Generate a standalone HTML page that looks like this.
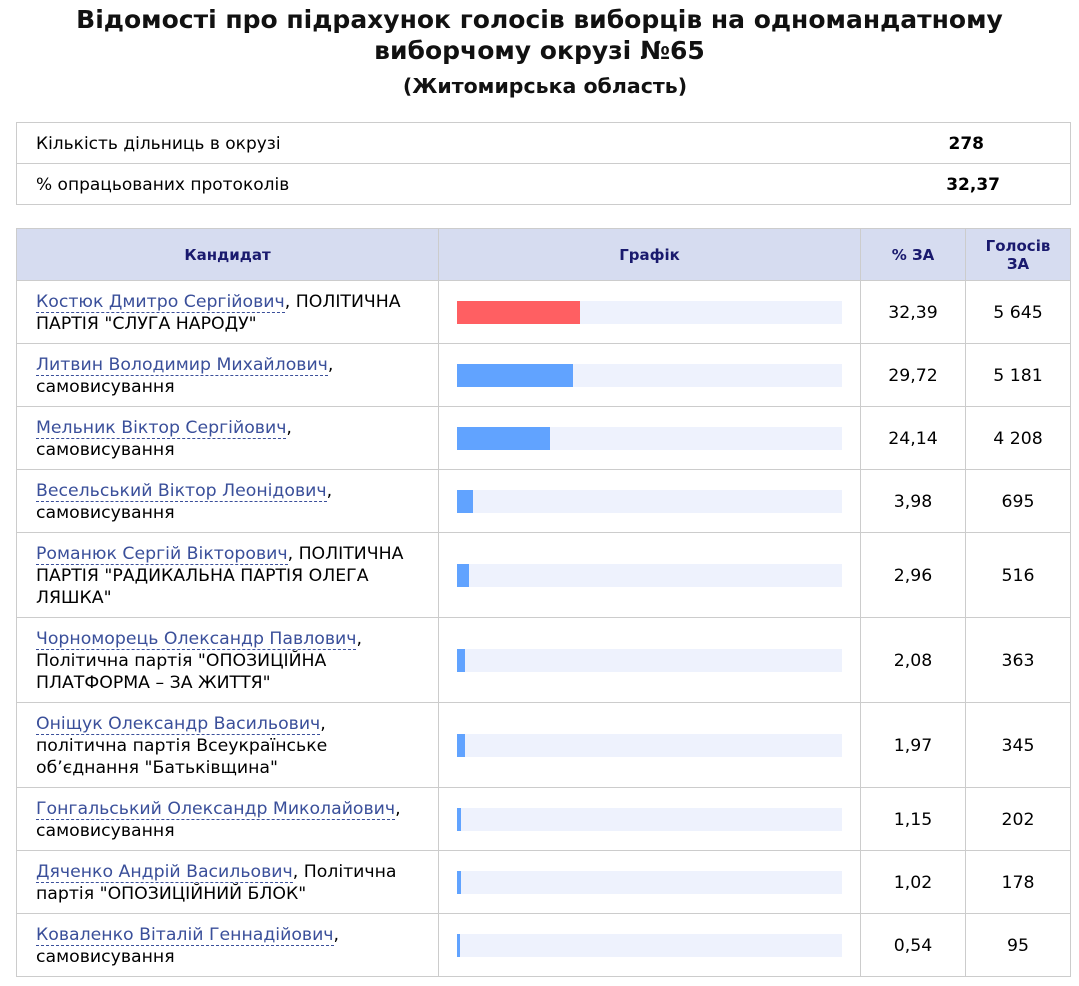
<!DOCTYPE html>
<html><head><meta charset="utf-8">
<style>
body{margin:0;width:1079px;height:986px;background:#fff;font-family:"DejaVu Sans","Liberation Sans",sans-serif;color:#000;position:relative;overflow:hidden}
h1{position:absolute;top:4px;left:0;width:1079px;margin:0;text-align:center;font-size:25px;line-height:31px;font-weight:bold;color:#111}
h2{position:absolute;top:74px;left:0;width:1090px;margin:0;text-align:center;font-size:20.5px;font-weight:bold;color:#111}
table{position:absolute;left:16px;width:1055px;border-collapse:collapse;table-layout:fixed}
td,th{border:1px solid #ccc;padding:0}
#t1{top:122px}
#t1 td{height:38px;font-size:17px;padding-left:19px;padding-top:2px;border-left:none;border-right:none}
#t1 td:first-child{border-left:1px solid #ccc}
#t1 td:last-child{border-right:1px solid #ccc}
#t1 td.v{font-weight:bold;padding-left:0;padding-right:70px;text-align:right}
#t2{top:228px}
#t2 th{background:#d6dcf0;color:#1a1a6e;font-size:15px;height:51px;font-weight:bold}
#t2 td{font-size:17.3px;line-height:22px;background:rgba(255,255,255,0.8);padding-top:2px}
#t2 td.c{padding-left:19px;padding-right:20px}
#t2 td.n{text-align:center}
a{color:#3a4f9a;text-decoration:none;border-bottom:1px dashed #3a4f9a}
.tr{margin-left:18px;width:385px;height:23px;background:#eef2fd;position:relative;top:-1px}
.b{position:absolute;left:0;top:0;height:23px;background:#61a3ff}
</style></head><body>
<h1>Відомості про підрахунок голосів виборців на одномандатному<br>виборчому окрузі №65</h1>
<h2>(Житомирська область)</h2>
<table id="t1">
<colgroup><col style="width:844px"><col></colgroup>
<tr><td>Кількість дільниць в окрузі</td><td class="v" style="padding-right:86px">278</td></tr>
<tr><td>% опрацьованих протоколів</td><td class="v">32,37</td></tr>
</table>
<table id="t2">
<colgroup><col style="width:422px"><col style="width:422px"><col style="width:105px"><col></colgroup>
<tr><th>Кандидат</th><th>Графік</th><th>% ЗА</th><th>Голосів<br>ЗА</th></tr>
<tr style="height:63px"><td class="c"><a>Костюк Дмитро Сергійович</a>, ПОЛІТИЧНА ПАРТІЯ "СЛУГА НАРОДУ"</td><td><div class="tr"><div class="b" style="width:123px;background:#ff5f62"></div></div></td><td class="n">32,39</td><td class="n">5 645</td></tr>
<tr style="height:63px"><td class="c"><a>Литвин Володимир Михайлович</a>,<br>самовисування</td><td><div class="tr"><div class="b" style="width:116px"></div></div></td><td class="n">29,72</td><td class="n">5 181</td></tr>
<tr style="height:63px"><td class="c"><a>Мельник Віктор Сергійович</a>,<br>самовисування</td><td><div class="tr"><div class="b" style="width:93px"></div></div></td><td class="n">24,14</td><td class="n">4 208</td></tr>
<tr style="height:63px"><td class="c"><a>Весельський Віктор Леонідович</a>,<br>самовисування</td><td><div class="tr"><div class="b" style="width:16px"></div></div></td><td class="n">3,98</td><td class="n">695</td></tr>
<tr style="height:85px"><td class="c"><a>Романюк Сергій Вікторович</a>, ПОЛІТИЧНА ПАРТІЯ "РАДИКАЛЬНА ПАРТІЯ ОЛЕГА ЛЯШКА"</td><td><div class="tr"><div class="b" style="width:12px"></div></div></td><td class="n">2,96</td><td class="n">516</td></tr>
<tr style="height:85px"><td class="c"><a>Чорноморець Олександр Павлович</a>, Політична партія "ОПОЗИЦІЙНА ПЛАТФОРМА – ЗА ЖИТТЯ"</td><td><div class="tr"><div class="b" style="width:8px"></div></div></td><td class="n">2,08</td><td class="n">363</td></tr>
<tr style="height:85px"><td class="c"><a>Оніщук Олександр Васильович</a>,<br>політична партія Всеукраїнське об’єднання "Батьківщина"</td><td><div class="tr"><div class="b" style="width:8px"></div></div></td><td class="n">1,97</td><td class="n">345</td></tr>
<tr style="height:63px"><td class="c"><a>Гонгальський Олександр Миколайович</a>,<br>самовисування</td><td><div class="tr"><div class="b" style="width:4px"></div></div></td><td class="n">1,15</td><td class="n">202</td></tr>
<tr style="height:63px"><td class="c"><a>Дяченко Андрій Васильович</a>, Політична партія "ОПОЗИЦІЙНИЙ БЛОК"</td><td><div class="tr"><div class="b" style="width:4px"></div></div></td><td class="n">1,02</td><td class="n">178</td></tr>
<tr style="height:63px"><td class="c"><a>Коваленко Віталій Геннадійович</a>,<br>самовисування</td><td><div class="tr"><div class="b" style="width:3px"></div></div></td><td class="n">0,54</td><td class="n">95</td></tr>
</table>
</body></html>
